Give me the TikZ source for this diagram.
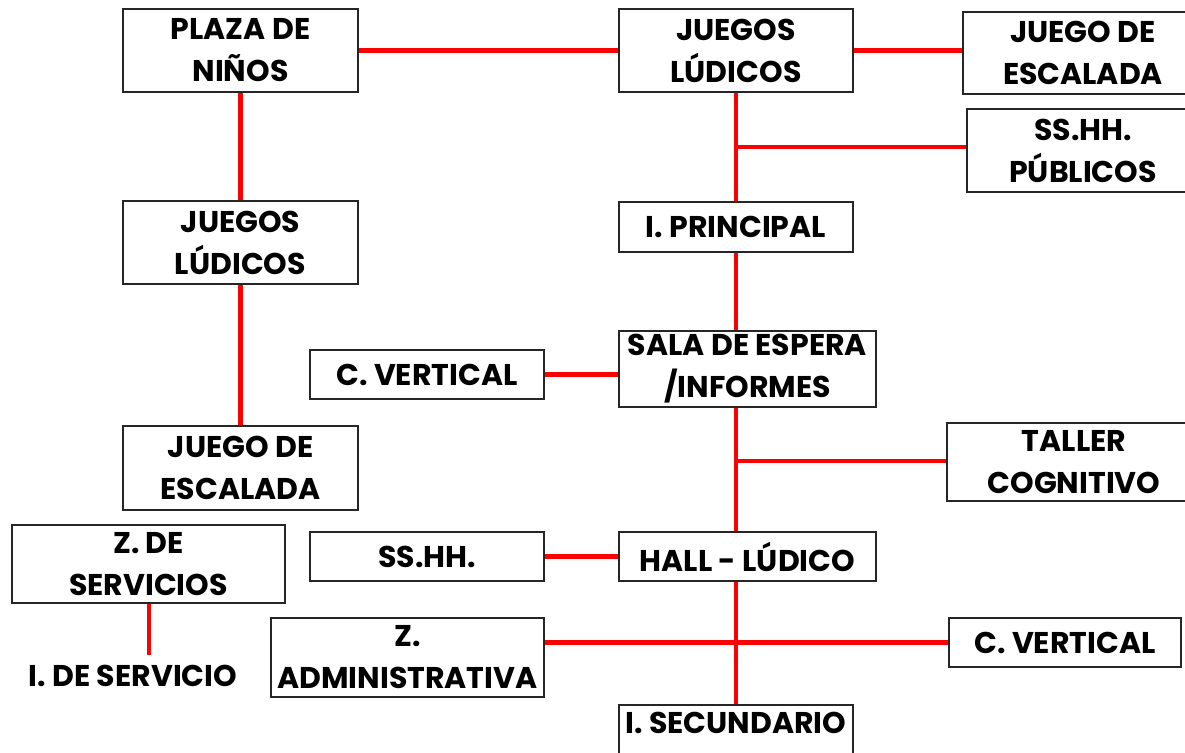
\documentclass[tikz,border=0pt]{standalone}
\usepackage{fontspec}
\setmainfont{Poppins}
\begin{document}
\begin{tikzpicture}[x=1pt,y=-1pt,
  box/.style={draw=black!85, line width=1.5pt, inner sep=0pt, align=center,
    font=\fontsize{30}{42}\selectfont\bfseries},
  lbl/.style={inner sep=0pt, align=center, font=\fontsize{30}{42}\selectfont\bfseries},
  link/.style={draw=red, line width=4.5pt}]
\useasboundingbox (0,0) rectangle (1185,752);
\clip (0,0) rectangle (1185,752);
% nodes
\node[box, minimum width=235pt, minimum height=83pt] (plaza) at (240.5,50.5) {PLAZA DE\\NIÑOS};
\node[box, minimum width=234pt, minimum height=83pt] (jl1) at (736,50.5) {JUEGOS\\LÚDICOS};
\node[box, minimum width=240pt, minimum height=82pt] (jde1) at (1083,53) {JUEGO DE\\ESCALADA};
\node[box, minimum width=232pt, minimum height=83pt] (sshhp) at (1083,150.5) {SS.HH.\\PÚBLICOS};
\node[box, minimum width=234pt, minimum height=50pt] (iprin) at (736,227) {I. PRINCIPAL};
\node[box, minimum width=235pt, minimum height=83pt] (jl2) at (240.5,242.5) {JUEGOS\\LÚDICOS};
\node[box, minimum width=234pt, minimum height=49pt] (cv1) at (427,374.5) {C. VERTICAL};
\node[box, minimum width=257pt, minimum height=76pt] (sala) at (747.5,369) {SALA DE ESPERA\\/INFORMES};
\node[box, minimum width=254pt, minimum height=78pt] (taller) at (1074,462) {TALLER\\COGNITIVO};
\node[box, minimum width=235pt, minimum height=84pt] (jde2) at (240.5,468) {JUEGO DE\\ESCALADA};
\node[box, minimum width=273pt, minimum height=78pt] (zserv) at (148.5,564) {Z. DE\\SERVICIOS};
\node[box, minimum width=234pt, minimum height=49pt] (sshh) at (427,556.5) {SS.HH.};
\node[box, minimum width=257pt, minimum height=49pt] (hall) at (747.5,556.5) {HALL - LÚDICO};
\node[lbl] (iserv) at (133,676) {I. DE SERVICIO};
\coordinate (iservtop) at (149,655);
\node[box, minimum width=273pt, minimum height=79pt] (zadm) at (407.5,657.5) {Z.\\ADMINISTRATIVA};
\node[box, minimum width=232pt, minimum height=49pt] (cv2) at (1065,642.5) {C. VERTICAL};
\node[box, minimum width=234pt, minimum height=56pt, text height=12pt, text depth=12pt] (isec) at (736,733) {I. SECUNDARIO};
\coordinate (b1) at (736,147);
\coordinate (b2) at (736,461);
% connectors
\draw[link] (plaza.east) -- (jl1.west);
\draw[link] (jl1.east) -- (jl1.east -| jde1.west);
\draw[link] (jl1.south) -- (iprin.north);
\draw[link] (b1) -- (b1 -| sshhp.west);
\draw[link] (plaza.south) -- (jl2.north);
\draw[link] (jl2.south) -- (jde2.north);
\draw[link] (iprin.south) -- (iprin.south |- sala.north);
\draw[link] (cv1.east) -- (cv1.east -| sala.west);
\draw[link] (iprin.south |- sala.south) -- (iprin.south |- hall.north);
\draw[link] (b2) -- (b2 -| taller.west);
\draw[link] (sshh.east) -- (hall.west);
\draw[link] (iprin.south |- hall.south) -- (isec.north);
\draw[link] (cv2.west) -- (cv2.west -| zadm.east);
\draw[link] (zserv.south -| iservtop) -- (iservtop);
\end{tikzpicture}
\end{document}
